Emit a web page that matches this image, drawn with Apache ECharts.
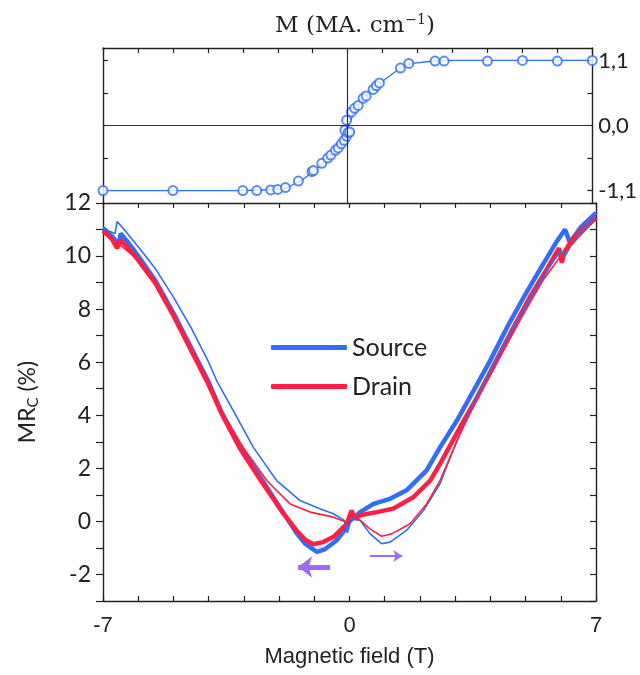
<!DOCTYPE html>
<html>
<head>
<meta charset="utf-8">
<script src="https://cdn.jsdelivr.net/npm/echarts@6/dist/echarts.min.js"></script>
<style>
  html, body { margin: 0; padding: 0; background: #fff; }
  #chart { width: 640px; height: 675px; }
</style>
</head>
<body>
<div id="chart"></div>
<script>
// tick labels
const fieldLabels = [-7, 0, 7];
const mTicks = [-1.1, -0.55, 0, 0.55, 1.1];
const mLabels = [-1.1, 0, 1.1];

// magnetization: measured points (T, MA/cm)
const mField = [-7, -5, -3, -2.6, -2.2, -2.0, -1.78, -1.41, -1.02, -0.98, -0.74, -0.57, -0.48, -0.35, -0.27, -0.18, -0.1, -0.03, -0.08, 0.01, 0.06, -0.03, 0.11, 0.2, 0.3, 0.44, 0.53, 0.73, 0.82, 0.91, 1.51, 1.75, 2.5, 2.76, 4.0, 5.0, 6.0, 7.0];
const mValue = [-1.1, -1.1, -1.1, -1.1, -1.09, -1.08, -1.05, -0.94, -0.78, -0.76, -0.64, -0.55, -0.5, -0.42, -0.38, -0.31, -0.25, -0.18, -0.08, -0.12, -0.11, 0.09, 0.23, 0.29, 0.34, 0.46, 0.5, 0.61, 0.67, 0.72, 0.97, 1.05, 1.09, 1.09, 1.09, 1.1, 1.09, 1.1];

// magnetization: fitted curve
const fitField = [-7, -4, -3, -2.5, -2, -1.75, -1.5, -1.25, -1, -0.75, -0.5, -0.25, 0, 0.25, 0.5, 0.75, 1, 1.25, 1.5, 1.75, 2, 2.5, 3, 4, 7];
const fitValue = [-1.1, -1.1, -1.1, -1.09, -1.08, -1.05, -0.98, -0.9, -0.78, -0.65, -0.5, -0.33, -0.05, 0.31, 0.48, 0.62, 0.75, 0.86, 0.96, 1.03, 1.06, 1.09, 1.1, 1.1, 1.1];

// MR_C source, sweep down (thick)
const srcDownField = [-7, -6.75, -6.55, -6.5, -6.25, -6, -5.5, -5, -4.5, -4, -3.63, -3.11, -2.5, -1.88, -1.5, -1.25, -0.93, -0.7, -0.36, -0.15, 0, 0.3, 0.68, 1.15, 1.62, 2.19, 2.57, 3.05, 3.52, 3.99, 4.47, 4.94, 5.41, 5.89, 6.12, 6.26, 6.55, 7];
const srcDownMr = [11.05, 10.75, 10.45, 10.85, 10.45, 10.0, 9.05, 7.85, 6.55, 5.25, 4.1, 2.85, 1.6, 0.33, -0.45, -0.85, -1.15, -1.05, -0.71, -0.35, 0.0, 0.35, 0.66, 0.85, 1.17, 1.92, 2.79, 3.8, 4.92, 6.05, 7.3, 8.43, 9.5, 10.56, 11.0, 10.5, 11.06, 11.63];

// MR_C drain, sweep down (thick)
const drnDownField = [-7, -6.75, -6.6, -6.5, -6.25, -6, -5.5, -5, -4.5, -4, -3.63, -3.11, -2.5, -1.88, -1.5, -1.25, -1.03, -0.75, -0.46, -0.2, -0.08, 0.06, 0.15, 0.3, 0.77, 1.24, 1.81, 2.29, 2.57, 3.14, 3.57, 4.1, 4.65, 5.1, 5.6, 5.95, 6.03, 6.1, 6.36, 7];
const drnDownMr = [10.95, 10.65, 10.3, 10.6, 10.25, 9.85, 8.95, 7.75, 6.45, 5.15, 4.05, 2.75, 1.5, 0.3, -0.35, -0.7, -0.86, -0.78, -0.59, -0.25, -0.09, 0.41, 0.1, 0.23, 0.35, 0.48, 0.91, 1.54, 2.17, 3.55, 4.55, 5.9, 7.3, 8.4, 9.5, 10.3, 9.75, 10.15, 10.69, 11.45];

// MR_C source, sweep up (thin)
const srcUpField = [-7, -6.85, -6.66, -6.6, -6.43, -6, -5.5, -5, -4.5, -4, -3.77, -3.25, -2.73, -2.07, -1.41, -0.84, -0.46, -0.15, -0.06, 0.05, 0.3, 0.58, 0.91, 1.15, 1.62, 2.1, 2.57, 3.05, 3.51, 4, 4.5, 5, 5.5, 6.0, 6.12, 6.25, 6.5, 7];
const srcUpMr = [11.1, 10.95, 10.85, 11.3, 11.05, 10.35, 9.5, 8.45, 7.3, 6.0, 5.3, 4.05, 2.79, 1.54, 0.79, 0.48, 0.29, 0.04, -0.43, 0.1, 0.04, -0.46, -0.84, -0.78, -0.34, 0.41, 1.42, 3.05, 4.43, 5.7, 6.95, 8.1, 9.25, 10.2, 10.0, 10.3, 10.8, 11.5];

// MR_C drain, sweep up (thin)
const drnUpField = [-7, -6.5, -6, -5.5, -5, -4.5, -4, -3.5, -3.02, -2.35, -1.69, -1.12, -0.46, -0.08, 0.06, 0.3, 0.58, 0.91, 1.2, 1.72, 2.19, 2.57, 3.14, 3.6, 4, 4.5, 5, 5.5, 6, 6.5, 7];
const drnUpMr = [10.95, 10.4, 9.85, 8.95, 7.8, 6.5, 5.2, 3.85, 2.79, 1.54, 0.66, 0.35, 0.16, -0.03, 0.3, 0.04, -0.28, -0.56, -0.47, -0.09, 0.66, 1.54, 3.3, 4.55, 5.5, 6.75, 7.95, 9.1, 10.0, 10.7, 11.4];

// sweep direction arrows [start, end]
const arrowDown = [[-0.55, -1.72], [-1.46, -1.72]];
const arrowUp = [[0.58, -1.3], [1.5, -1.3]];

const BLUE = "#2f6ef6";
const RED = "#ff1f45";
const PURPLE = "#9c6cf6";
const AXIS = "#222";
const LABEL_FONT = "Lato";

const zip = (xs, ys) => xs.map((x, i) => [x, ys[i]]);

const axisLine = { show: true, onZero: false, lineStyle: { color: AXIS, width: 1.4 } };
const tickStyle = { color: AXIS, width: 1.2 };

const chart = echarts.init(document.getElementById("chart"), null, { renderer: "canvas" });

chart.setOption({
    backgroundColor: "#fff",
    animation: false,
    title: {
        text: "{a|M (MA. cm}{s|−1}{a|)}",
        left: 350,
        top: 8,
        textAlign: "center",
        textStyle: {
            fontWeight: "normal",
            rich: {
                a: { fontFamily: "DejaVu Serif", fontSize: 23, fontWeight: "normal", color: AXIS },
                s: { fontFamily: "DejaVu Serif", fontSize: 14, fontWeight: "normal", color: AXIS, padding: [0, 0, 13, 1] }
            }
        }
    },
    legend: {
        data: ["Source", "Drain"],
        orient: "vertical",
        left: 266,
        top: 330,
        icon: "roundRect",
        itemWidth: 76,
        itemHeight: 5,
        itemGap: 14,
        textStyle: { fontFamily: LABEL_FONT, fontSize: 25, color: AXIS }
    },
    grid: [
        { left: 103, right: 44, top: 48, height: 155 },
        { left: 103, right: 44, top: 203, height: 398 }
    ],
    xAxis: [
        { gridIndex: 0, type: "value", min: -7, max: 7, show: false },
        {
            gridIndex: 0, type: "value", min: -7, max: 7, interval: 1, position: "top",
            axisLine: axisLine,
            axisTick: { inside: true, length: 5, lineStyle: tickStyle },
            axisLabel: { show: false },
            splitLine: { show: false }
        },
        {
            gridIndex: 1, type: "value", min: -7, max: 7, interval: 1, position: "bottom",
            axisLine: axisLine,
            axisTick: { inside: true, length: 5, lineStyle: tickStyle },
            axisLabel: {
                customValues: fieldLabels,
                margin: 14,
                fontFamily: "Liberation Sans",
                fontSize: 22,
                color: AXIS
            },
            splitLine: { show: false },
            name: "Magnetic field (T)",
            nameLocation: "middle",
            nameGap: 45,
            nameTextStyle: { fontFamily: "Liberation Sans", fontSize: 22, color: AXIS }
        },
        {
            gridIndex: 1, type: "value", min: -7, max: 7, interval: 1, position: "top",
            axisLine: axisLine,
            axisTick: { inside: true, length: 5, lineStyle: tickStyle },
            axisLabel: { show: false },
            splitLine: { show: false }
        }
    ],
    yAxis: [
        {
            gridIndex: 0, type: "value", min: -1.31, max: 1.31, position: "left",
            axisLine: axisLine,
            axisTick: { inside: true, length: 5, customValues: mTicks, lineStyle: tickStyle },
            axisLabel: { show: false },
            splitLine: { show: false }
        },
        {
            gridIndex: 0, type: "value", min: -1.31, max: 1.31, position: "right",
            axisLine: axisLine,
            axisTick: { inside: true, length: 5, customValues: mTicks, lineStyle: tickStyle },
            axisLabel: {
                customValues: mLabels,
                margin: 6,
                fontFamily: LABEL_FONT,
                fontSize: 22,
                color: AXIS,
                formatter: v => v.toFixed(1).replace(".", ",")
            },
            splitLine: { show: false }
        },
        {
            gridIndex: 1, type: "value", min: -3, max: 12, interval: 1, position: "left",
            axisLine: axisLine,
            axisTick: { inside: false, length: 7, lineStyle: tickStyle },
            axisLabel: {
                margin: 12,
                fontFamily: LABEL_FONT,
                fontSize: 23,
                color: AXIS,
                formatter: v => (v % 2 === 0 ? String(v) : "")
            },
            splitLine: { show: false },
            name: "{a|MR}{s|C}{a| (%)}",
            nameLocation: "middle",
            nameGap: 62,
            nameRotate: 90,
            nameTextStyle: {
                rich: {
                    a: { fontFamily: LABEL_FONT, fontSize: 23, color: AXIS },
                    s: { fontFamily: LABEL_FONT, fontSize: 15, color: AXIS, padding: [12, 0, 0, 0] }
                }
            }
        },
        {
            gridIndex: 1, type: "value", min: -3, max: 12, interval: 1, position: "right",
            axisLine: axisLine,
            axisTick: { inside: true, length: 6, lineStyle: tickStyle },
            axisLabel: { show: false },
            splitLine: { show: false }
        }
    ],
    series: [
        {
            name: "fit",
            type: "line",
            xAxisIndex: 0,
            yAxisIndex: 0,
            data: zip(fitField, fitValue),
            smooth: 0.4,
            showSymbol: false,
            lineStyle: { color: BLUE, width: 1.3 },
            markLine: {
                silent: true,
                symbol: "none",
                label: { show: false },
                lineStyle: { color: "#333", width: 1.2, type: "solid" },
                data: [{ xAxis: 0 }, { yAxis: 0 }]
            },
            z: 3
        },
        {
            name: "M",
            type: "scatter",
            xAxisIndex: 0,
            yAxisIndex: 0,
            data: zip(mField, mValue),
            symbol: "emptyCircle",
            symbolSize: 9,
            clip: true,
            itemStyle: { color: BLUE, borderColor: BLUE, borderWidth: 2 },
            z: 4
        },
        {
            name: "Source",
            type: "line",
            xAxisIndex: 2,
            yAxisIndex: 2,
            data: zip(srcDownField, srcDownMr),
            showSymbol: false,
            itemStyle: { color: BLUE },
            lineStyle: { color: BLUE, width: 4.5 },
            markLine: {
                silent: true,
                symbol: ["none", "arrow"],
                symbolSize: [16, 14],
                label: { show: false },
                lineStyle: { color: PURPLE, width: 5, type: "solid" },
                data: [[{ coord: arrowDown[0] }, { coord: arrowDown[1] }]]
            }
        },
        {
            name: "Drain",
            type: "line",
            xAxisIndex: 2,
            yAxisIndex: 2,
            data: zip(drnDownField, drnDownMr),
            showSymbol: false,
            itemStyle: { color: RED },
            lineStyle: { color: RED, width: 4.5 }
        },
        {
            name: "Source",
            type: "line",
            xAxisIndex: 2,
            yAxisIndex: 2,
            data: zip(srcUpField, srcUpMr),
            showSymbol: false,
            itemStyle: { color: BLUE },
            lineStyle: { color: BLUE, width: 1.6 },
            markLine: {
                silent: true,
                symbol: ["none", "arrow"],
                symbolSize: [9, 9],
                label: { show: false },
                lineStyle: { color: PURPLE, width: 2, type: "solid" },
                data: [[{ coord: arrowUp[0] }, { coord: arrowUp[1] }]]
            }
        },
        {
            name: "Drain",
            type: "line",
            xAxisIndex: 2,
            yAxisIndex: 2,
            data: zip(drnUpField, drnUpMr),
            showSymbol: false,
            itemStyle: { color: RED },
            lineStyle: { color: RED, width: 1.6 }
        }
    ]
});
</script>
</body>
</html>
